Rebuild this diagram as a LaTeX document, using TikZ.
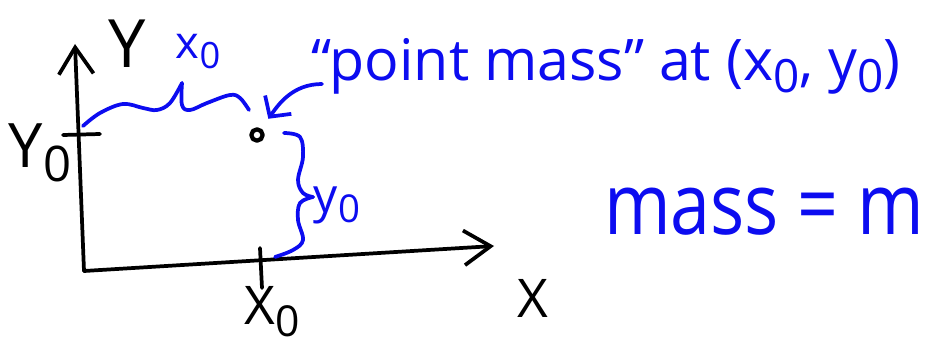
\documentclass[tikz,border=0pt]{standalone}
\usepackage{fontspec}
\setmainfont{Open Sans}
\usetikzlibrary{arrows.meta}
\definecolor{handblue}{RGB}{12,12,240}
\newcommand\lowsub[1]{\raisebox{-0.22em}{\scalebox{0.8}{#1}}}
\begin{document}
\begin{tikzpicture}[x=0.75pt,y=-0.75pt,line cap=round,line join=round,
  ink/.style={line width=2.8pt,draw=black},
  blueink/.style={line width=2.8pt,draw=handblue},
  lbl/.style={inner sep=0pt,text=black},
  bluelbl/.style={inner sep=0pt,text=handblue},
  axisarrow/.style={-{Straight Barb[length=20pt,width=26pt,line width=2.8pt]}},
  pointarrow/.style={-{Straight Barb[length=11pt,width=24pt,line width=2.8pt]}}]
\fill[white] (0,0) rectangle (928,346);
\useasboundingbox (0,0) rectangle (928,346);

% axes
\coordinate (origin) at (84,271);
\coordinate (ytip) at (75,44);
\coordinate (xtip) at (494,246);
\draw[ink,axisarrow] (origin) -- (ytip);
\draw[ink,axisarrow] (origin) -- (xtip);

% ticks
\coordinate (ytickL) at (63,135);
\coordinate (ytickR) at (100,134);
\coordinate (xtickT) at (260,248);
\coordinate (xtickB) at (262,288);
\draw[ink] (ytickL) -- (ytickR);
\draw[ink] (xtickT) -- (xtickB);

% point mass
\node[circle,draw=black,line width=3.2pt,minimum size=8.5pt,inner sep=0pt] (pt) at (257,135) {};

% black labels
\node[lbl,font=\fontsize{50}{50}\selectfont] (ylabel) at (127,44) {Y};
\node[lbl,font=\fontsize{46}{46}\selectfont] (y0label) at (40,153) {Y\lowsub{0}};
\node[lbl,font=\fontsize{40}{40}\selectfont] (xlabel) at (533,298) {X};
\node[lbl,font=\fontsize{40}{40}\selectfont] (x0label) at (272,312) {X\lowsub{0}};

% blue braces
\draw[blueink] plot[smooth,tension=0.6] coordinates {(83,126) (100,113) (123,104) (143,108) (157,110) (170,103) (182,83)};
\draw[blueink] plot[smooth,tension=0.6] coordinates {(182,83) (182,105) (190,110) (207,103) (230,95) (240,98) (249,110)};
\draw[blueink] plot[smooth,tension=0.6] coordinates {(284,133) (300,137) (303,157) (298,180) (303,193) (313,197)};
\draw[blueink] plot[smooth,tension=0.6] coordinates {(313,197) (300,203) (298,220) (303,240) (293,250) (275,257)};

% blue labels
\node[bluelbl,font=\fontsize{34}{34}\selectfont] (x0brace) at (198,52) {x\lowsub{0}};
\node[bluelbl,font=\fontsize{36}{36}\selectfont] (y0brace) at (337,205) {y\lowsub{0}};
\node[bluelbl,font=\fontsize{43}{43}\selectfont,anchor=west] (pm) at (311,66) {“point mass” at (x\lowsub{0}, y\lowsub{0})};
\node[bluelbl,font=\fontsize{64}{64}\selectfont] (mass) at (764,212) {\scalebox{0.84}[1]{mass = m}};

% arrow to the point
\coordinate (arrowtail) at (322,84);
\draw[blueink,pointarrow,shorten >=9pt] (arrowtail) to[out=180,in=55] (pt);
\end{tikzpicture}
\end{document}
